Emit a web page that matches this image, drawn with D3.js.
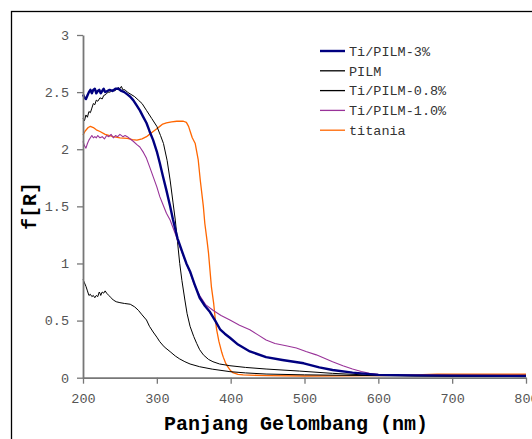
<!DOCTYPE html>
<html>
<head>
<meta charset="utf-8">
<script src="https://cdn.jsdelivr.net/npm/d3@7"></script>
<style>
  body { margin: 0; background: #fff; }
  svg { display: block; }
  text { font-family: "Liberation Mono", "DejaVu Sans Mono", "Courier New", monospace; }
</style>
</head>
<body>
<div id="chart"></div>
<script>
  // data, [wavelength nm, f(R)]
  var ti3 = [[200,2.48],[202,2.45],[204,2.44],[206,2.47],[208,2.50],[210,2.52],[212,2.49],[214,2.52],[216,2.53],[218,2.49],[220,2.51],[222,2.52],[224,2.49],[226,2.51],[228,2.53],[230,2.50],[233,2.51],[236,2.52],[240,2.51],[244,2.53],[248,2.53],[252,2.51],[256,2.50],[260,2.48],[264,2.46],[268,2.43],[272,2.39],[277,2.34],[281,2.29],[286,2.23],[290,2.16],[295,2.08],[300,1.98],[304,1.88],[308,1.77],[313,1.64],[318,1.50],[322,1.38],[328,1.22],[335,1.09],[340,1.00],[345,0.93],[351,0.82],[358,0.70],[365,0.63],[372,0.575],[379,0.50],[386,0.42],[392,0.385],[399,0.35],[410,0.29],[426,0.23],[448,0.18],[470,0.155],[499,0.126],[520,0.09],[538,0.067],[565,0.044],[600,0.025],[650,0.02],[700,0.018],[800,0.015]];

  var pilm = [[200,0.86],[202,0.83],[204,0.80],[206,0.76],[208,0.72],[210,0.73],[212,0.71],[214,0.72],[216,0.70],[218,0.72],[220,0.71],[222,0.75],[223,0.74],[224,0.72],[226,0.75],[228,0.74],[230,0.76],[232,0.74],[235,0.72],[238,0.70],[241,0.68],[245,0.665],[250,0.657],[256,0.65],[264,0.643],[270,0.62],[275,0.59],[280,0.55],[286,0.505],[290,0.45],[295,0.40],[300,0.355],[304,0.315],[310,0.27],[318,0.228],[325,0.19],[331,0.164],[338,0.14],[345,0.12],[358,0.096],[375,0.075],[399,0.053],[420,0.042],[448,0.032],[500,0.025],[600,0.018],[700,0.012],[800,0.01]];

  var ti08 = [[200,2.27],[202,2.25],[204,2.30],[206,2.28],[208,2.33],[210,2.32],[212,2.36],[214,2.40],[216,2.39],[218,2.43],[220,2.42],[223,2.45],[226,2.44],[228,2.47],[231,2.48],[234,2.50],[237,2.50],[240,2.52],[243,2.51],[246,2.53],[248,2.54],[250,2.53],[252,2.55],[254,2.52],[257,2.52],[260,2.50],[265,2.48],[270,2.46],[275,2.43],[280,2.40],[286,2.34],[293,2.27],[300,2.20],[305,2.12],[309,2.05],[314,1.90],[318,1.73],[322,1.53],[325,1.38],[328,1.19],[331,1.00],[334,0.85],[338,0.68],[341,0.56],[345,0.45],[350,0.36],[354,0.30],[358,0.245],[363,0.20],[370,0.16],[376,0.14],[385,0.12],[399,0.105],[420,0.09],[448,0.076],[493,0.058],[538,0.038],[583,0.024],[650,0.017],[800,0.013]];

  var ti10 = [[200,2.07],[202,2.03],[204,2.01],[206,2.05],[208,2.08],[210,2.10],[212,2.12],[214,2.10],[216,2.11],[218,2.10],[220,2.12],[223,2.10],[226,2.11],[229,2.09],[232,2.12],[235,2.11],[238,2.13],[241,2.10],[244,2.12],[247,2.11],[250,2.13],[254,2.11],[257,2.12],[260,2.11],[264,2.09],[268,2.07],[273,2.04],[277,2.02],[282,1.97],[286,1.92],[290,1.85],[295,1.76],[300,1.67],[304,1.585],[308,1.52],[313,1.44],[318,1.38],[325,1.26],[331,1.15],[338,1.03],[345,0.92],[351,0.81],[358,0.72],[366,0.64],[376,0.59],[387,0.545],[399,0.505],[412,0.46],[426,0.42],[437,0.375],[448,0.33],[460,0.30],[475,0.28],[489,0.26],[502,0.23],[516,0.20],[527,0.17],[538,0.14],[552,0.105],[565,0.076],[577,0.055],[588,0.038],[600,0.03],[611,0.025],[700,0.02],[800,0.02]];

  var titania = [[200,2.125],[203,2.16],[207,2.19],[210,2.20],[214,2.19],[218,2.17],[223,2.155],[230,2.13],[241,2.11],[250,2.10],[260,2.095],[267,2.085],[273,2.08],[280,2.09],[286,2.11],[290,2.13],[295,2.155],[300,2.18],[304,2.20],[308,2.22],[313,2.23],[320,2.24],[327,2.245],[336,2.245],[340,2.235],[343,2.20],[345,2.16],[348,2.10],[352,2.05],[356,1.91],[359,1.72],[363,1.50],[365,1.35],[368,1.20],[370,1.09],[372,0.94],[374,0.79],[377,0.65],[379,0.52],[381,0.42],[384,0.32],[386,0.27],[388,0.22],[390,0.18],[393,0.13],[396,0.096],[400,0.06],[403,0.044],[410,0.03],[417,0.024],[450,0.018],[500,0.015],[600,0.018],[650,0.025],[680,0.032],[700,0.03],[750,0.03],[800,0.03]];

  var seriesNames = ["Ti/PILM-3%", "PILM", "Ti/PILM-0.8%", "Ti/PILM-1.0%", "titania"];
  var seriesData = [ti3, pilm, ti08, ti10, titania];
  var seriesColors = ["#000080", "#000000", "#000000", "#993399", "#ff6600"];
  var seriesWidths = [2.4, 1, 1, 1.1, 1.3];
  var xTicks = [200, 300, 400, 500, 600, 700, 800];
  var yTicks = [0, 0.5, 1, 1.5, 2, 2.5, 3];

  var width = 532, height = 439;

  var svg = d3.select("#chart").append("svg")
    .attr("width", width)
    .attr("height", height);

  // outer chart border (runs off right and bottom)
  svg.append("rect")
    .attr("x", 11.5).attr("y", 11.5)
    .attr("width", 700).attr("height", 700)
    .attr("fill", "none")
    .attr("stroke", "#000")
    .attr("stroke-width", 1.3);

  var x = d3.scaleLinear().domain([200, 800]).range([83, 526]);
  var y = d3.scaleLinear().domain([0, 3]).range([377.7, 35]);

  var line = d3.line()
    .x(function(d) { return x(d[0]); })
    .y(function(d) { return y(d[1]); });

  // draw order: orange at back, navy on top
  var drawOrder = [4, 1, 2, 3, 0];
  drawOrder.forEach(function(i) {
    svg.append("path")
      .datum(seriesData[i])
      .attr("fill", "none")
      .attr("stroke", seriesColors[i])
      .attr("stroke-width", seriesWidths[i])
      .attr("stroke-linejoin", "round")
      .attr("d", line);
  });

  // axes
  var xAxis = svg.append("g")
    .attr("transform", "translate(0," + y(0) + ")")
    .call(d3.axisBottom(x).tickValues(xTicks).tickSize(6).tickPadding(10).tickSizeOuter(0));
  var yAxis = svg.append("g")
    .attr("transform", "translate(" + x(200) + ",0)")
    .call(d3.axisLeft(y).tickValues(yTicks).tickSize(6).tickPadding(8).tickSizeOuter(0)
      .tickFormat(function(d) { return String(d); }));

  [xAxis, yAxis].forEach(function(ax) {
    ax.attr("font-family", null);
    ax.select(".domain").attr("stroke", "#777").attr("stroke-width", 1.8);
    ax.selectAll(".tick line").attr("stroke", "#777").attr("stroke-width", 1.3);
    ax.selectAll(".tick text")
      .attr("fill", "#555")
      .style("font-size", "13.5px");
  });

  // axis titles
  svg.append("text")
    .attr("x", 296).attr("y", 430)
    .attr("text-anchor", "middle")
    .style("font-weight", "bold")
    .style("font-size", "20px")
    .text("Panjang Gelombang (nm)");

  svg.append("text")
    .attr("transform", "translate(36,206) rotate(-90)")
    .attr("text-anchor", "middle")
    .style("font-weight", "bold")
    .style("font-size", "20px")
    .text("f[R]");

  // legend
  var legend = svg.append("g");
  seriesNames.forEach(function(name, i) {
    var ly = 51 + i * 19.8;
    legend.append("line")
      .attr("x1", 320).attr("x2", 345)
      .attr("y1", ly).attr("y2", ly)
      .attr("stroke", seriesColors[i])
      .attr("stroke-width", i === 0 ? 2.4 : 1.3);
    legend.append("text")
      .attr("x", 349).attr("y", ly)
      .attr("dy", "0.35em")
      .attr("fill", "#333")
      .style("font-size", "13.5px")
      .text(name);
  });
</script>
</body>
</html>
